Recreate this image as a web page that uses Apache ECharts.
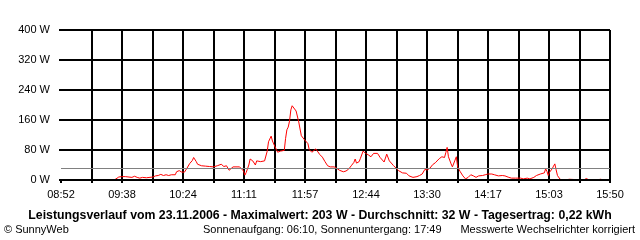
<!DOCTYPE html>
<html>
<head>
<meta charset="utf-8">
<script src="https://cdn.jsdelivr.net/npm/echarts@6/dist/echarts.min.js"></script>
<style>
    html, body { margin: 0; padding: 0; background: #fff; }
    #chart { width: 640px; height: 240px; }
</style>
</head>
<body>
<div id="chart"></div>
<script>
// Messzeitpunkte (Uhrzeit) und Leistung in W
var times = [
    '09:33', '09:36', '09:38', '09:41', '09:42', '09:46', '09:48', '09:50', '09:52', '09:54',
    '09:57', '09:58', '10:02', '10:04', '10:06', '10:08', '10:10', '10:12', '10:14', '10:16',
    '10:19', '10:20', '10:22', '10:24', '10:26', '10:28', '10:30', '10:32', '10:33', '10:35',
    '10:36', '10:39', '10:42', '10:45', '10:46', '10:48', '10:51', '10:54', '10:56', '10:58',
    '11:00', '11:01', '11:03', '11:08', '11:09', '11:11', '11:12', '11:13', '11:15', '11:16',
    '11:18', '11:20', '11:21', '11:22', '11:24', '11:27', '11:29', '11:30', '11:32', '11:33',
    '11:35', '11:37', '11:39', '11:40', '11:42', '11:43', '11:44', '11:45', '11:46', '11:47',
    '11:48', '11:49', '11:51', '11:53', '11:54', '11:55', '11:57', '11:58', '12:00', '12:01',
    '12:03', '12:04', '12:06', '12:07', '12:09', '12:11', '12:13', '12:15', '12:17', '12:18',
    '12:20', '12:22', '12:24', '12:25', '12:27', '12:29', '12:31', '12:33', '12:35', '12:36',
    '12:37', '12:39', '12:40', '12:42', '12:44', '12:46', '12:48', '12:50', '12:53', '12:55',
    '12:58', '13:00', '13:02', '13:05', '13:07', '13:09', '13:12', '13:15', '13:17', '13:20',
    '13:23', '13:25', '13:27', '13:29', '13:31', '13:33', '13:35', '13:37', '13:40', '13:42',
    '13:43', '13:44', '13:45', '13:46', '13:47', '13:49', '13:50', '13:52', '13:53', '13:54',
    '13:56', '13:58', '14:00', '14:02', '14:04', '14:06', '14:08', '14:10', '14:13', '14:15',
    '14:17', '14:20', '14:22', '14:25', '14:28', '14:30', '14:33', '14:35', '14:38', '14:39',
    '14:42', '14:44', '14:47', '14:49', '14:52', '14:54', '14:55', '14:57', '14:58', '15:00',
    '15:01', '15:02', '15:03', '15:04', '15:06', '15:07', '15:08', '15:09', '15:10', '15:12',
    '15:14', '15:16', '15:17', '15:19', '15:20', '15:30', '15:31', '15:32', '15:33', '15:34',
    '15:39', '15:40', '15:43', '15:44', '15:45'
];
var watts = [
    1, 8, 9, 9, 7, 7, 10, 7, 5, 7,
    6, 8, 8, 11, 12, 15, 12, 14, 12, 14,
    14, 22, 25, 21, 21, 32, 44, 52, 60, 49,
    42, 38, 37, 36, 40, 35, 38, 42, 36, 38,
    26, 31, 35, 35, 33, 24, 13, 20, 40, 56,
    51, 40, 51, 56, 49, 51, 77, 102, 117, 104,
    88, 74, 77, 74, 79, 111, 134, 141, 157, 187,
    198, 203, 184, 155, 136, 118, 109, 109, 97, 81,
    74, 74, 83, 79, 68, 61, 49, 38, 35, 40,
    35, 31, 26, 24, 22, 24, 29, 38, 47, 56,
    45, 49, 58, 77, 71, 67, 62, 71, 71, 60,
    48, 69, 51, 39, 32, 25, 19, 18, 11, 7,
    9, 12, 16, 28, 27, 32, 41, 46, 57, 62,
    67, 60, 73, 87, 62, 43, 35, 53, 62, 35,
    22, 11, 3, 7, 14, 11, 7, 11, 12, 14,
    16, 16, 14, 11, 12, 11, 7, 5, 5, 3,
    5, 3, 5, 3, 7, 12, 11, 16, 14, 19,
    30, 23, 12, 21, 30, 37, 43, 27, 12, 2,
    0, 0, 2, 2, 0, 0, 2, 4, 2, 0,
    0, 2, 2, 0, 0
];
var tickLabels = ['08:52', '09:38', '10:24', '11:11', '11:57', '12:44', '13:30', '14:17', '15:03', '15:50'];
var average = 32;

var startMin = 8 * 60 + 52, endMin = 15 * 60 + 50;
var stepMin = (endMin - startMin) / 18;   // eine Gitterspalte

function toMin(t) {
    var p = t.split(':');
    return parseInt(p[0], 10) * 60 + parseInt(p[1], 10);
}

var points = [];
for (var i = 0; i < times.length; i++) {
    points.push([(toMin(times[i]) - startMin) / stepMin, watts[i]]);
}

var font = 'Liberation Sans, Arial, sans-serif';
var chart = echarts.init(document.getElementById('chart'), null, {renderer: 'canvas'});

chart.setOption({
    animation: false,
    backgroundColor: '#fff',
    grid: {left: 61, right: 30, top: 30, bottom: 60},
    xAxis: [{
        type: 'value',
        min: 0,
        max: 18,
        interval: 1,
        axisLine: {show: false},
        axisTick: {show: true, length: 3, lineStyle: {color: '#000', width: 2}},
        axisLabel: {
            margin: 9,
            fontFamily: font,
            fontSize: 11,
            color: '#000',
            showMinLabel: true,
            showMaxLabel: true,
            formatter: function (v) {
                var k = Math.round(v);
                return k % 2 === 0 ? tickLabels[k / 2] : '';
            }
        },
        splitLine: {show: true, showMinLine: false, lineStyle: {color: '#000', width: 2}}
    }, {
        // Nulllinie über der Kurve
        type: 'value',
        position: 'bottom',
        min: 0,
        max: 18,
        z: 5,
        axisLine: {show: true, onZero: false, lineStyle: {color: '#000', width: 2}},
        axisTick: {show: false},
        axisLabel: {show: false},
        splitLine: {show: false}
    }],
    yAxis: {
        type: 'value',
        min: 0,
        max: 400,
        interval: 80,
        axisLine: {show: false},
        axisTick: {show: true, length: 2, lineStyle: {color: '#000', width: 2}},
        axisLabel: {
            margin: 11,
            fontFamily: font,
            fontSize: 11,
            color: '#000',
            formatter: '{value} W'
        },
        splitLine: {show: true, lineStyle: {color: '#000', width: 2}}
    },
    series: [{
        type: 'line',
        data: points,
        showSymbol: false,
        symbol: 'none',
        lineStyle: {color: '#ff0000', width: 1},
        markLine: {
            silent: true,
            symbol: 'none',
            label: {show: false},
            lineStyle: {color: '#808080', width: 1, type: 'solid'},
            data: [{yAxis: average}]
        }
    }],
    graphic: [
        {
            type: 'text', left: 'center', top: 210,
            style: {
                text: 'Leistungsverlauf vom 23.11.2006 - Maximalwert: 203 W - Durchschnitt: 32 W - Tagesertrag: 0,22 kWh',
                font: 'bold 12.3px ' + font, fill: '#000'
            }
        },
        {
            type: 'text', left: 4, top: 224,
            style: {text: '\u00a9 SunnyWeb', font: '11px ' + font, fill: '#000'}
        },
        {
            type: 'text', left: 203, top: 224,
            style: {text: 'Sonnenaufgang: 06:10, Sonnenuntergang: 17:49', font: '11px ' + font, fill: '#000'}
        },
        {
            type: 'text', right: 5, top: 224,
            style: {text: 'Messwerte Wechselrichter korrigiert', font: '11px ' + font, fill: '#000'}
        }
    ]
});
</script>
</body>
</html>
